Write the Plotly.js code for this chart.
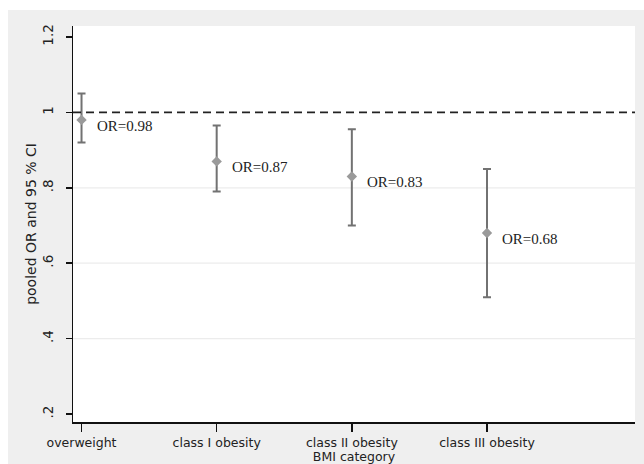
<!DOCTYPE html>
<html>
<head>
<meta charset="utf-8">
<script src="https://cdn.plot.ly/plotly-3.0.1.min.js"></script>
<style>
  html, body { margin: 0; padding: 0; background: #ffffff; }
  #chart { position: absolute; left: 8px; top: 10px; width: 636px; height: 454px; }
</style>
</head>
<body>
<div id="chart"></div>
<script>
// ---- data ----
const categories = ["overweight", "class I obesity", "class II obesity", "class III obesity"];
const orValues   = [0.98, 0.87, 0.83, 0.68];
const ciLower    = [0.92, 0.79, 0.70, 0.51];
const ciUpper    = [1.05, 0.965, 0.955, 0.85];
const yTickVals  = [0.2, 0.4, 0.6, 0.8, 1.0, 1.2];
const yTickText  = [".2", ".4", ".6", ".8", "1", "1.2"];
const gridVals   = [0.4, 0.6, 0.8];
const refValue   = 1;

const errPlus  = orValues.map((v, i) => ciUpper[i] - v);
const errMinus = orValues.map((v, i) => v - ciLower[i]);

const trace = {
  type: "scatter",
  mode: "markers",
  x: categories,
  y: orValues,
  marker: { symbol: "diamond", size: 8, color: "#9a9a9a" },
  error_y: {
    type: "data",
    symmetric: false,
    array: errPlus,
    arrayminus: errMinus,
    color: "#727272",
    thickness: 2,
    width: 4
  },
  hoverinfo: "x+y",
  showlegend: false
};

const annotations = categories.map((c, i) => ({
  x: c, y: orValues[i], xref: "x", yref: "y",
  text: "OR=" + orValues[i].toFixed(2),
  showarrow: false, xanchor: "left", yanchor: "middle",
  xshift: 13, yshift: -6,
  font: { family: "Liberation Serif, Times New Roman, serif", size: 15, color: "#222222" }
}));

const shapes = gridVals.map(v => ({
  type: "line", xref: "paper", yref: "y", x0: 0, x1: 1, y0: v, y1: v,
  line: { color: "#ececec", width: 1.2 }, layer: "below"
}));
shapes.push({
  type: "line", xref: "paper", yref: "y", x0: 0, x1: 1, y0: refValue, y1: refValue,
  line: { color: "#222222", width: 1.6, dash: "8px,5px" }, layer: "above"
});

const layout = {
  width: 636, height: 454,
  margin: { l: 65, r: 9, t: 16, b: 42 },
  paper_bgcolor: "#efefef",
  plot_bgcolor: "#ffffff",
  showlegend: false,
  font: { family: "DejaVu Sans, sans-serif", color: "#222222" },
  xaxis: {
    type: "category",
    range: [-0.063, 4.095],
    showline: true, linecolor: "#111111", linewidth: 1.5,
    ticks: "outside", ticklen: 8, tickwidth: 1.5, tickcolor: "#111111",
    showgrid: false, zeroline: false,
    tickfont: { family: "DejaVu Sans, sans-serif", size: 12.5, color: "#222222" },
    title: { text: "BMI category", font: { family: "DejaVu Sans, sans-serif", size: 12.5, color: "#222222" }, standoff: 3 }
  },
  yaxis: {
    range: [0.179, 1.229],
    tickvals: yTickVals, ticktext: yTickText,
    tickangle: -90,
    ticklabelstandoff: 7,
    showline: true, linecolor: "#111111", linewidth: 1.5,
    ticks: "outside", ticklen: 6, tickwidth: 1.5, tickcolor: "#111111",
    showgrid: false, zeroline: false,
    tickfont: { family: "DejaVu Sans, sans-serif", size: 13.5, color: "#222222" },
    title: { text: "pooled OR and 95 % CI", font: { family: "DejaVu Sans, sans-serif", size: 14, color: "#222222" }, standoff: 0 }
  },
  shapes: shapes,
  annotations: annotations
};

Plotly.newPlot("chart", [trace], layout, { displayModeBar: false, staticPlot: true });
</script>
</body>
</html>
